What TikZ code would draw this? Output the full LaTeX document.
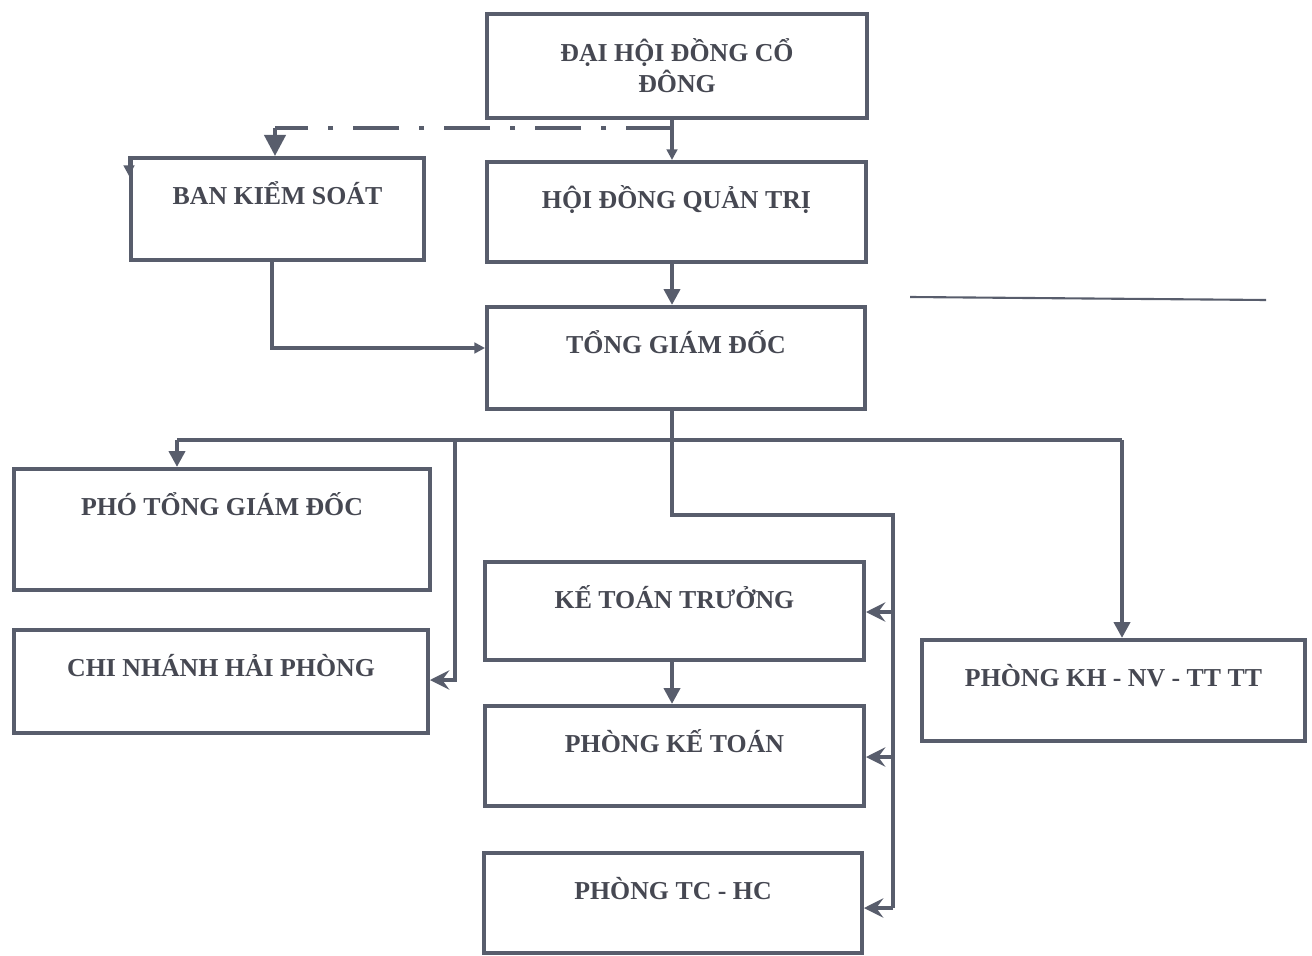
\documentclass[tikz,border=0pt]{standalone}
\usepackage{fontspec}
\setmainfont{Liberation Serif}
\usetikzlibrary{arrows.meta}
\definecolor{lin}{RGB}{88,93,108}
\definecolor{txt}{RGB}{70,72,82}
\tikzset{
    box/.style={draw=lin, line width=2.3pt, inner xsep=0pt, inner ysep=0pt,
        text=txt, font=\bfseries\fontsize{14.7}{17.5}\selectfont,
        text height=0.92cm, minimum width=#1},
    link/.style={draw=lin, line width=2.3pt},
    tipL/.style={-{Stealth[length=11pt, width=11pt, inset=4pt]}},
    tipD/.style={-{Triangle[length=9pt, width=9pt]}},
    tipS/.style={-{Triangle[length=6pt, width=6pt]}}
}
\begin{document}
\begin{tikzpicture}[x=0.02cm, y=-0.02cm]
\useasboundingbox (0,0) rectangle (1312,956);

% cac khoi
\node[box=7.6cm, text height=, text depth=, minimum height=2.08cm, align=center]
    (dh) at (677,66) {ĐẠI HỘI ĐỒNG CỔ\\ĐÔNG};
\node[box=7.58cm, text depth=1.08cm] (hd) at (676.5,212) {HỘI ĐỒNG QUẢN TRỊ};
\node[box=5.86cm, text depth=1.12cm] (bks) at (277.5,209) {BAN KIỂM SOÁT};
\node[box=7.56cm, text depth=1.12cm] (tgd) at (676,358) {TỔNG GIÁM ĐỐC};
\node[box=8.32cm, text depth=1.5cm] (ptgd) at (222,529.5) {PHÓ TỔNG GIÁM ĐỐC};
\node[box=8.28cm, text depth=1.14cm] (cn) at (221,681.5) {CHI NHÁNH HẢI PHÒNG};
\node[box=7.58cm, text depth=1.04cm] (ktt) at (674.5,611) {KẾ TOÁN TRƯỞNG};
\node[box=7.58cm, text depth=1.08cm] (pkt) at (674.5,756) {PHÒNG KẾ TOÁN};
\node[box=7.56cm, text depth=1.08cm] (ptc) at (673,903) {PHÒNG TC - HC};
\node[box=7.66cm, text depth=1.10cm] (pkh) at (1113.5,690.5) {PHÒNG KH - NV - TT TT};

% diem re nhanh
\coordinate (d1) at (672,128);
\coordinate (d2) at (275,128);
\coordinate (b1) at (272,348);
\coordinate (bus) at (672,440);
\coordinate (bl) at (177,440);
\coordinate (bm) at (455,440);
\coordinate (bm2) at (455,680);
\coordinate (br) at (1122,440);
\coordinate (m1) at (672,515);
\coordinate (m2) at (893,515);
\coordinate (m3) at (893,908);

% ket noi
\draw[link, tipS] (dh.south -| d1) -- (hd.north -| d1);
\draw[link, line width=2.6pt, dash pattern=on 0.92cm off 0.4cm on 0.1cm off 0.4cm]
    (d1) -- (d2);
\draw[link, -{Triangle[length=12pt, width=12pt]}] (d2) -- (bks.north -| d2);
\draw[link, line width=1.6pt, tipS] (bks.north west) -- ++(0,20);
\draw[link, tipS] (bks.south -| b1) -- (b1) -- (tgd.west |- b1);
\draw[link, tipD] (hd.south -| bus) -- (tgd.north -| bus);
\draw[link] (tgd.south -| bus) -- (m1) -- (m2) -- (m3);
\draw[link] (bl) -- (br);
\draw[link, tipD] (bl) -- (ptgd.north -| bl);
\draw[link, tipL] (bm) -- (bm2) -- (cn.east |- bm2);
\draw[link, tipD] (br) -- (pkh.north -| br);
\draw[link, tipL] (m2 |- 0,612) -- (ktt.east |- 0,612);
\draw[link, tipL] (m2 |- 0,757) -- (pkt.east |- 0,757);
\draw[link, tipL] (m3) -- (ptc.east |- m3);
\draw[link, tipD] (ktt.south -| bus) -- (pkt.north -| bus);

% duong ke rieng
\draw[lin, line width=1.2pt] (910,297) -- (1266,300);
\end{tikzpicture}
\end{document}
